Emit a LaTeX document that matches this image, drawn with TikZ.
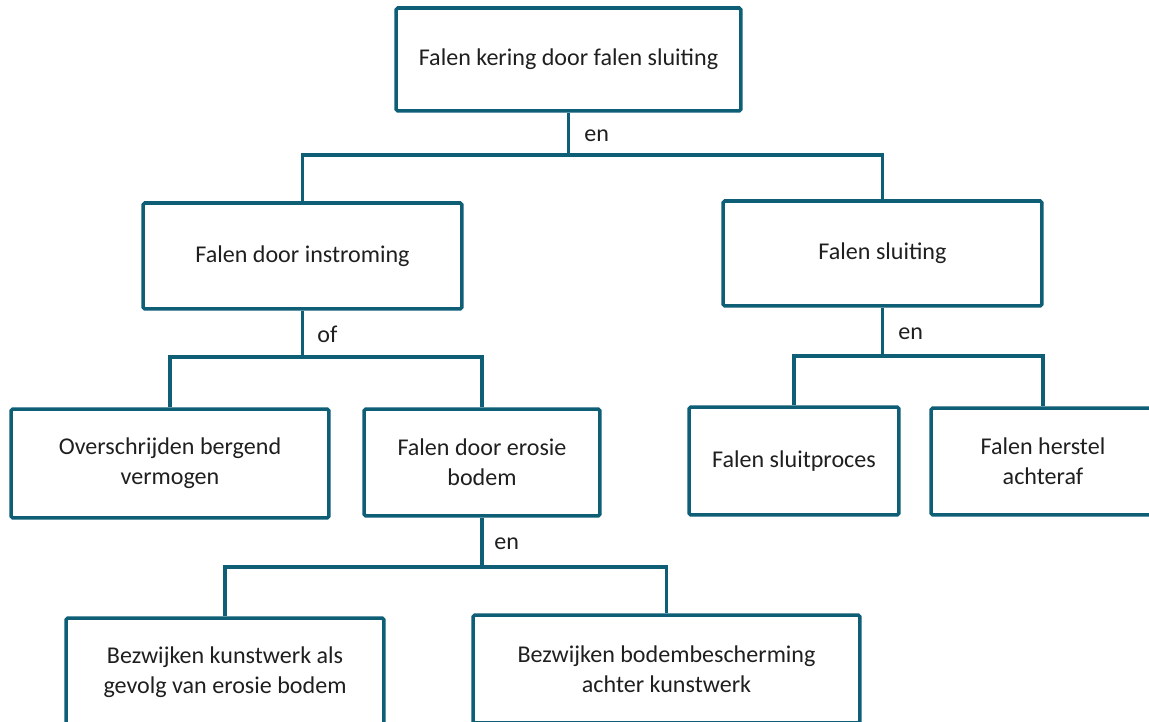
\documentclass[tikz,border=0pt]{standalone}
\usepackage{fontspec}
\setmainfont{Carlito}
\usepackage{tikz}
\definecolor{fbline}{RGB}{14,94,118}

\tikzset{
  box/.style={draw=fbline, line width=2pt, rounded corners=1pt, align=center, inner sep=0pt, text=black!88, font=\fontsize{13.7}{17}\selectfont},
  link/.style={draw=fbline, line width=2pt},
  gate/.style={anchor=west, inner sep=0pt, text=black!88, font=\fontsize{13.7}{17}\selectfont}
}

\begin{document}
\begin{tikzpicture}[x=0.02cm, y=-0.02cm]
\clip (0,0) rectangle (1149,722);

% boxes
\node[box, minimum width=6.9cm, minimum height=2.06cm] (kering) at (568.5,59.5) {Falen kering door falen sluiting};
\node[box, minimum width=6.38cm, minimum height=2.12cm] (instroming) at (302.5,256) {Falen door instroming};
\node[box, minimum width=6.38cm, minimum height=2.1cm] (sluiting) at (882.5,253.5) {Falen sluiting};
\node[box, minimum width=6.36cm, minimum height=2.18cm] (overschrijden) at (170,463.5) {Overschrijden bergend\\vermogen};
\node[box, minimum width=4.72cm, minimum height=2.14cm] (erosie) at (482,462.5) {Falen door erosie\\bodem};
\node[box, minimum width=4.2cm, minimum height=2.16cm] (sluitproces) at (794,461) {Falen sluitproces};
\node[box, minimum width=4.48cm, minimum height=2.14cm] (herstel) at (1043,461.5) {Falen herstel\\achteraf};
\node[box, minimum width=6.36cm, minimum height=2.16cm] (kunstwerk) at (225,672) {Bezwijken kunstwerk als\\gevolg van erosie bodem};
\node[box, minimum width=7.74cm, minimum height=2.16cm] (bescherming) at (666.5,669) {Bezwijken bodembescherming\\achter kunstwerk};

% junctions and gates
\coordinate (j1) at (kering.south |- 0,155);
\coordinate (j2) at (instroming.south |- 0,357);
\coordinate (j3) at (sluiting.south |- 0,356);
\coordinate (j4) at (erosie.south |- 0,567);

\node[gate] (en1) at (584,136) {en};
\node[gate] (of1) at (317,334) {of};
\node[gate] (en2) at (898,334) {en};
\node[gate] (en3) at (494,544) {en};

\foreach \a/\b in {kering/j1, instroming/j2, sluiting/j3, erosie/j4}
\draw[link] (\a.south) -- (\b);

\foreach \a/\b in {j1/instroming, j1/sluiting, j2/overschrijden, j2/erosie, j3/sluitproces, j3/herstel, j4/kunstwerk, j4/bescherming}
\draw[link] (\a) -| (\b.north);

\end{tikzpicture}
\end{document}
